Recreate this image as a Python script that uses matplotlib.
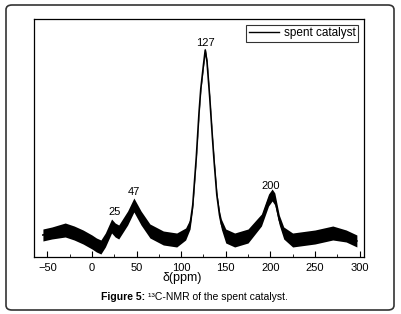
import matplotlib
matplotlib.use("Agg")
import matplotlib.pyplot as plt
from matplotlib.patches import FancyBboxPatch
from matplotlib.ticker import MultipleLocator

plt.rcParams['font.family'] = ['Liberation Sans', 'DejaVu Sans']

# chemical shift (ppm), centre intensity of the noisy trace and its half spread
shift = [-55, -45, -30, -20, -10, 0, 5, 10, 15, 22, 26, 30, 40, 47, 55, 65, 80, 95,
         105, 110, 113, 117, 120, 122, 125, 127, 129, 132, 135, 137, 140, 143, 145,
         150, 160, 175, 190, 198, 202, 205, 210, 215, 225, 250, 270, 285, 297]
intensity = [22, 24, 27, 24, 20, 15, 12, 10, 17, 31, 27, 25, 39, 52, 39, 26, 19, 17,
             23, 33, 52, 100, 144, 168, 192, 207, 195, 160, 120, 95, 62, 42, 33,
             21, 17, 21, 37, 57, 62, 58, 37, 24, 17, 20, 24, 21, 16]
spread = [6, 6, 7, 7, 7, 7, 7, 7, 7, 7, 7, 7, 7, 7, 7, 7, 7, 7,
          6, 5, 3, 2, 2, 2, 2, 2, 2, 2, 2, 3, 3, 4, 5,
          7, 7, 7, 6, 6, 6, 6, 5, 6, 7, 7, 7, 6, 6]

peak_pos = [25, 47, 127, 200]
peak_lbl = ["25", "47", "127", "200"]
peak_y = [40, 60, 209, 66]

xticks = [-50, 0, 50, 100, 150, 200, 250, 300]

fig = plt.figure(figsize=(4.01, 3.14), dpi=100)
W, H = 401, 314
ax = fig.add_axes([34 / W, 1 - 257 / H, 330 / W, 238 / H])

upper = [c + s for c, s in zip(intensity, spread)]
lower = [c - s for c, s in zip(intensity, spread)]
ax.fill_between(shift, lower, upper, color='black', linewidth=0)
ax.plot(shift, intensity, color='black', linewidth=1.2)

for p, l, y in zip(peak_pos, peak_lbl, peak_y):
    ax.text(p, y, l, ha='center', va='bottom', fontsize=8)

ax.plot([], [], color='black', linewidth=1, label='spent catalyst')
leg = ax.legend(loc='upper right', fontsize=8.5, frameon=True, fancybox=False,
                edgecolor='black', handlelength=2.6, handletextpad=0.4,
                borderpad=0.2, borderaxespad=0.5)
leg.get_frame().set_linewidth(0.8)

ax.set_xlim(-65, 305)
ax.set_ylim(0, 238)
ax.set_xticks(xticks)
ax.xaxis.set_minor_locator(MultipleLocator(25))
ax.set_yticks([])
ax.tick_params(axis='x', which='major', direction='in', length=4, width=0.8,
               labelsize=8, pad=4)
ax.tick_params(axis='x', which='minor', direction='in', length=2, width=0.6)
for sp in ax.spines.values():
    sp.set_linewidth(0.9)

ax.set_xlabel('δ(ppm)', fontsize=9, labelpad=0)
ax.xaxis.set_label_coords(0.448, -0.065)

fig.text(148 / W, 1 - 297 / H, 'Figure 5: ', fontsize=7.5, fontweight='bold',
         ha='right', va='center')
fig.text(148 / W, 1 - 297 / H, '¹³C-NMR of the spent catalyst.',
         fontsize=7.5, ha='left', va='center')

border = FancyBboxPatch((6 / W, 1 - 310 / H), 388 / W, 305 / H,
                        boxstyle='round,pad=0,rounding_size=0.015',
                        transform=fig.transFigure, fill=False,
                        edgecolor='#333333', linewidth=1.2)
fig.patches.append(border)

fig.savefig('out.png', dpi=100)
